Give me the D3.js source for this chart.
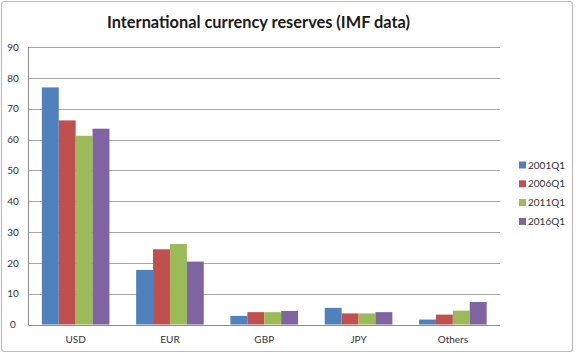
<!DOCTYPE html>
<html><head><meta charset="utf-8">
<script src="https://cdn.jsdelivr.net/npm/d3@7"></script>
<style>body{margin:0;background:#fff}svg{display:block}</style>
</head><body>
<svg id="chart" width="578" height="355"></svg>
<script>
const categories = ["USD","EUR","GBP","JPY","Others"];
const seriesNames = ["2001Q1","2006Q1","2011Q1","2016Q1"];
const s2001 = [76.9, 17.7, 2.8, 5.4, 1.6];
const s2006 = [66.2, 24.4, 4.0, 3.6, 3.2];
const s2011 = [61.2, 26.1, 4.0, 3.6, 4.5];
const s2016 = [63.5, 20.4, 4.4, 4.0, 7.3];
const yTicks = [0,10,20,30,40,50,60,70,80,90];
const colors = ["#4F81BD","#C0504D","#9BBB59","#8064A2"];
const series = [s2001, s2006, s2011, s2016];

(function(){
const svg = d3.select("#chart");
const font = "Lato, 'Open Sans', sans-serif";

svg.append("rect").attr("x",1.5).attr("y",1.5).attr("width",571).attr("height",350)
  .attr("rx",3).attr("fill","#fff").attr("stroke","#bdbdbd").attr("stroke-width",1.2);

const pLeft = 28.5, pRight = 500, pTop = 47, pBottom = 324.5;
const x = d3.scaleBand().domain(categories).range([pLeft, pRight]).paddingInner(0.283).paddingOuter(0.1415);
const xs = d3.scaleBand().domain(seriesNames).range([0, x.bandwidth()]);
const y = d3.scaleLinear().domain([0, 90]).range([pBottom, pTop]);

// gridlines
svg.append("g").selectAll("line").data(yTicks.filter(d=>d>0)).join("line")
  .attr("x1", pLeft).attr("x2", pRight)
  .attr("y1", d=>Math.round(y(d))+0.5).attr("y2", d=>Math.round(y(d))+0.5)
  .attr("stroke","#a6a6a6").attr("stroke-width",1);

// bars
const g = svg.append("g");
series.forEach((vals, si) => {
  g.selectAll(null).data(categories).join("rect")
    .attr("x", c => x(c) + xs(seriesNames[si]))
    .attr("width", xs.bandwidth())
    .attr("y", (c,i) => y(vals[i]))
    .attr("height", (c,i) => y(0) - y(vals[i]))
    .attr("fill", colors[si]);
});

// axes
const yAxis = d3.axisLeft(y).tickValues(yTicks).tickSize(0).tickPadding(0);
const ya = svg.append("g").attr("transform",`translate(${pLeft},0)`).call(yAxis);
ya.select(".domain").remove();
ya.selectAll("text").attr("x", 13-pLeft).attr("text-anchor","middle")
  .attr("font-family", font).attr("font-size", 10).attr("fill","#333");
svg.append("line").attr("x1",pLeft).attr("x2",pLeft).attr("y1",pTop).attr("y2",pBottom+0.5).attr("stroke","#8c8c8c");
svg.append("line").attr("x1",pLeft).attr("x2",pRight).attr("y1",Math.round(pBottom)+0.5).attr("y2",Math.round(pBottom)+0.5).attr("stroke","#8c8c8c");

const xAxis = d3.axisBottom(x).tickSize(0).tickPadding(0);
const xa = svg.append("g").attr("transform",`translate(0,${pBottom})`).call(xAxis);
xa.select(".domain").remove();
xa.selectAll("text").attr("y", 11).attr("dy","0.71em")
  .attr("font-family", font).attr("font-size", 10).attr("fill","#333");

// title
svg.append("text").attr("x", 258.5).attr("y", 28).attr("text-anchor","middle")
  .attr("font-family", font).attr("font-weight","bold").attr("font-size", 17.5)
  .attr("fill","#1a1a1a").text("International currency reserves (IMF data)")
  .attr("textLength", 303).attr("lengthAdjust","spacingAndGlyphs");

// legend
const lg = svg.append("g");
seriesNames.forEach((n, i) => {
  const ly = 165 + i*18.8;
  lg.append("rect").attr("x", 519).attr("y", ly-3.5).attr("width",7).attr("height",7).attr("fill", colors[i]);
  lg.append("text").attr("x", 528).attr("y", ly).attr("dy","0.35em")
    .attr("font-family", font).attr("font-size", 10).attr("fill","#333").text(n);
});
})();
</script>
</body></html>
